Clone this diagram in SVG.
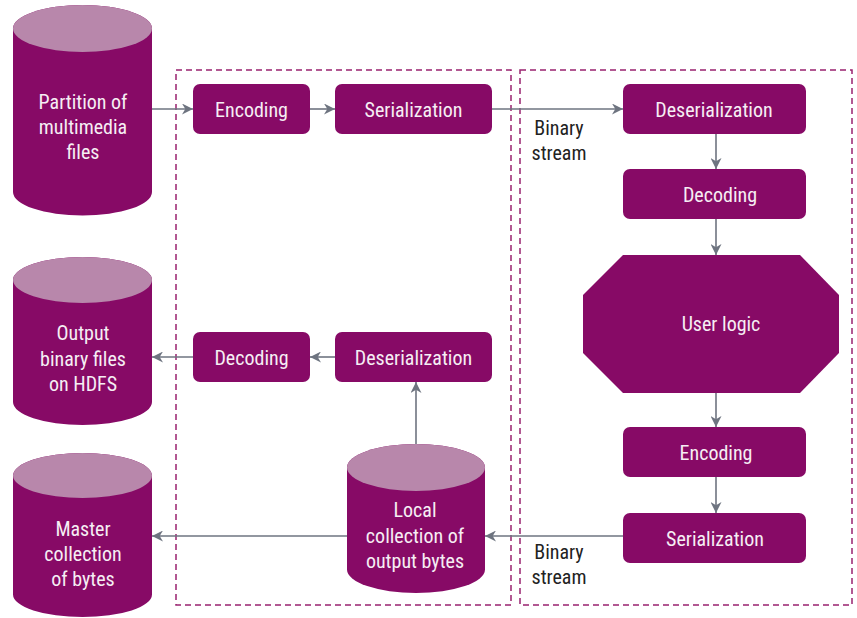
<svg xmlns="http://www.w3.org/2000/svg" width="857" height="618" viewBox="0 0 857 618">
  <defs>
    <marker id="arrow" viewBox="0 0 10 10" refX="10" refY="5" markerWidth="11" markerHeight="11" markerUnits="userSpaceOnUse" orient="auto">
      <path d="M0,0 L10,5 L0,10 L3,5 Z" fill="#6e7480"/>
    </marker>
    <style>
      .box { fill: #870a66; }
      .cyl { fill: #870a66; }
      .cyltop { fill: #b887ab; }
      .frame { fill: none; stroke: #99226f; stroke-width: 1.5; stroke-dasharray: 6 4; }
      .edge { fill: none; stroke: #6e7480; stroke-width: 1.6; marker-end: url(#arrow); }
      text { font-family: Roboto, "Liberation Sans", sans-serif; font-size: 20px; font-stretch: 87%; text-anchor: middle; }
      .w { fill: #f6eef4; }
      .d { fill: #222222; }
    </style>
  </defs>

  <rect width="857" height="618" fill="#ffffff"/>

  <!-- dashed boundaries of the two processing stages -->
  <rect class="frame" x="176" y="70" width="335" height="535"/>
  <rect class="frame" x="520" y="70" width="332" height="535"/>

  <!-- connectors -->
  <g id="connectors">
    <line class="edge" x1="152" y1="109" x2="193" y2="109"/>
    <line class="edge" x1="310" y1="109" x2="335" y2="109"/>
    <line class="edge" x1="492" y1="109" x2="623" y2="109"/>
    <line class="edge" x1="716" y1="134" x2="716" y2="169"/>
    <line class="edge" x1="716" y1="219" x2="716" y2="255"/>
    <line class="edge" x1="716" y1="393" x2="716" y2="427"/>
    <line class="edge" x1="716" y1="477" x2="716" y2="513"/>
    <line class="edge" x1="623" y1="536" x2="485" y2="536"/>
    <line class="edge" x1="347" y1="536" x2="152" y2="536"/>
    <line class="edge" x1="416" y1="444" x2="416" y2="382"/>
    <line class="edge" x1="335" y1="357" x2="310" y2="357"/>
    <line class="edge" x1="193" y1="357" x2="152" y2="357"/>
    <text class="d" x="559" y="135">Binary</text>
    <text class="d" x="559" y="160">stream</text>
    <text class="d" x="559" y="559">Binary</text>
    <text class="d" x="559" y="584">stream</text>
  </g>

  <!-- input partition -->
  <g id="partition">
    <path class="cyl" d="M13,28.5 A69.5,23.5 0 0 1 152,28.5 V192 A69.5,23.5 0 0 1 13,192 Z"/>
    <ellipse class="cyltop" cx="82.5" cy="28.5" rx="69.5" ry="23.5"/>
    <text class="w" x="83" y="109">Partition of</text>
    <text class="w" x="83" y="134">multimedia</text>
    <text class="w" x="83" y="159">files</text>
  </g>

  <!-- output on HDFS -->
  <g id="output">
    <path class="cyl" d="M13,280 A69.5,23 0 0 1 152,280 V402 A69.5,23 0 0 1 13,402 Z"/>
    <ellipse class="cyltop" cx="82.5" cy="280" rx="69.5" ry="23"/>
    <text class="w" x="83" y="340">Output</text>
    <text class="w" x="83" y="366">binary files</text>
    <text class="w" x="83" y="391">on HDFS</text>
  </g>

  <!-- master collection -->
  <g id="master">
    <path class="cyl" d="M13,475.5 A69.5,22.5 0 0 1 152,475.5 V594.5 A69.5,22.5 0 0 1 13,594.5 Z"/>
    <ellipse class="cyltop" cx="82.5" cy="475.5" rx="69.5" ry="22.5"/>
    <text class="w" x="83" y="536">Master</text>
    <text class="w" x="83" y="561">collection</text>
    <text class="w" x="83" y="586">of bytes</text>
  </g>

  <!-- local collection -->
  <g id="local">
    <path class="cyl" d="M347,467.5 A69,23.5 0 0 1 485,467.5 V569.5 A69,23.5 0 0 1 347,569.5 Z"/>
    <ellipse class="cyltop" cx="416" cy="467.5" rx="69" ry="23.5"/>
    <text class="w" x="415" y="517">Local</text>
    <text class="w" x="415" y="543">collection of</text>
    <text class="w" x="415" y="568">output bytes</text>
  </g>

  <!-- left stage -->
  <g id="encode-l">
    <rect class="box" x="193" y="84" width="117" height="50" rx="7"/>
    <text class="w" x="251.5" y="116.5">Encoding</text>
  </g>
  <g id="serialize-l">
    <rect class="box" x="335" y="84" width="157" height="50" rx="7"/>
    <text class="w" x="413.5" y="116.5">Serialization</text>
  </g>
  <g id="decode-l">
    <rect class="box" x="193" y="332" width="117" height="50" rx="7"/>
    <text class="w" x="251.5" y="364.5">Decoding</text>
  </g>
  <g id="deserialize-l">
    <rect class="box" x="335" y="332" width="157" height="50" rx="7"/>
    <text class="w" x="413.5" y="364.5">Deserialization</text>
  </g>

  <!-- right stage -->
  <g id="deserialize-r">
    <rect class="box" x="623" y="84" width="183" height="50" rx="7"/>
    <text class="w" x="714" y="116.5">Deserialization</text>
  </g>
  <g id="decode-r">
    <rect class="box" x="623" y="169" width="183" height="50" rx="7"/>
    <text class="w" x="720" y="201.5">Decoding</text>
  </g>
  <g id="user-logic">
    <polygon class="box" points="623,255 800,255 839,295 839,353 800,393 623,393 583,353 583,295"/>
    <text class="w" x="721" y="331">User logic</text>
  </g>
  <g id="encode-r">
    <rect class="box" x="623" y="427" width="183" height="50" rx="7"/>
    <text class="w" x="716" y="459.5">Encoding</text>
  </g>
  <g id="serialize-r">
    <rect class="box" x="623" y="513" width="183" height="50" rx="7"/>
    <text class="w" x="715" y="545.5">Serialization</text>
  </g>
</svg>
